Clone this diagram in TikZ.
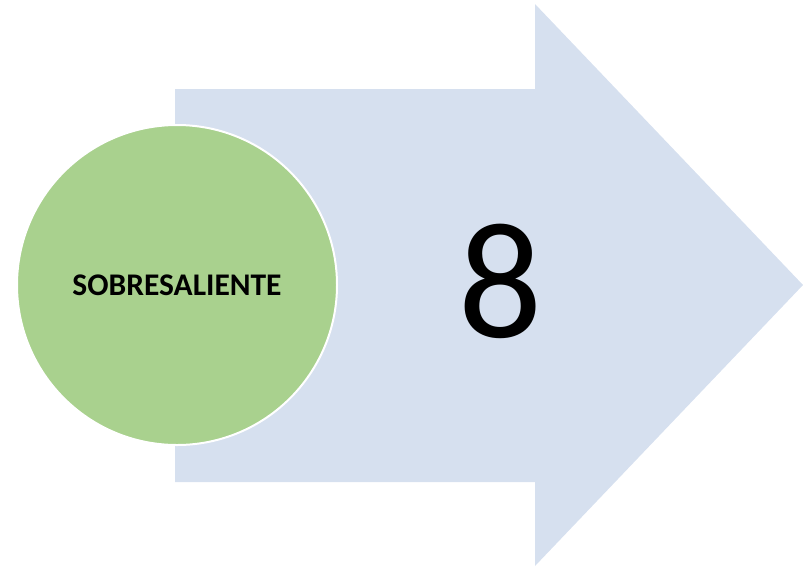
\documentclass[tikz,border=0pt]{standalone}
\usepackage{fontspec}
\setmainfont{Carlito}
\definecolor{arrowblue}{RGB}{214,224,239}
\definecolor{circgreen}{RGB}{169,209,142}
\begin{document}
\begin{tikzpicture}[x=1pt,y=-1pt,
  arrowshape/.style={fill=arrowblue,draw=none},
  circ/.style={circle,fill=circgreen,draw=white,line width=2pt,minimum size=320pt,inner sep=0pt,font=\bfseries\fontsize{31.5}{33}\selectfont},
  bignum/.style={font=\fontsize{166}{170}\selectfont,inner sep=0pt}]
\useasboundingbox (0,0) rectangle (803,566);
\fill[arrowshape] (175,89) -- (535,89) -- (535,4) -- (803,285) -- (535,566) -- (535,482) -- (175,482) -- cycle;
\node[circ] (c) at (177,285) {SOBRESALIENTE};
\node[bignum,anchor=base] (n) at (501,337) {8};
\end{tikzpicture}
\end{document}
